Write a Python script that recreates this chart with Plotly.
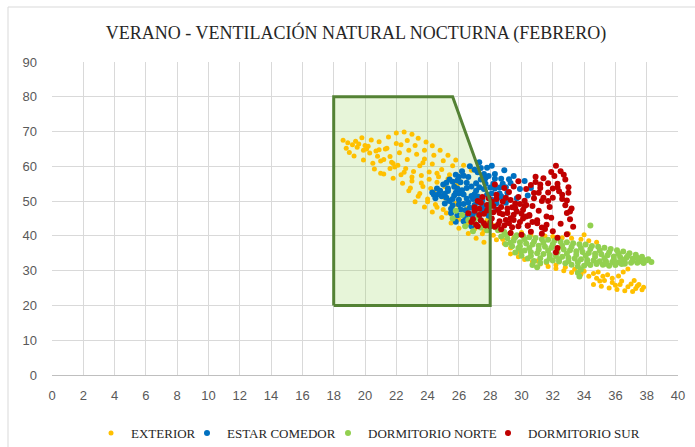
import plotly.graph_objects as go

TITLE = "VERANO - VENTILACIÓN NATURAL NOCTURNA (FEBRERO)"
SERIES_NAMES = ["EXTERIOR", "ESTAR COMEDOR", "DORMITORIO NORTE", "DORMITORIO SUR"]
SERIES_COLORS = ["#FFC000", "#0070C0", "#92D050", "#C00000"]

# Comfort zone polygon (temperature °C, relative humidity %)
COMFORT_X = [18, 18, 25.6, 28, 28, 18]
COMFORT_Y = [20, 80, 80, 50, 20, 20]

# EXTERIOR
EXT_X = [18.6, 18.9, 19.2, 19.5, 19.9, 20.3, 20.8, 21.2, 21.7, 22.1, 22.6, 23.1, 23.6, 24.1, 24.6, 25.1,
         19.8, 20.4, 20.9, 21.5, 22.0, 22.5, 23.0, 23.4, 23.9, 24.3, 24.8, 25.3, 25.8, 26.3, 26.8,
         19.3, 19.9, 20.5, 21.0, 21.6, 22.2, 22.8, 23.3, 23.8, 24.3, 24.9, 25.4, 26.0,
         20.6, 21.2, 21.8, 22.4, 22.9, 23.5, 24.0, 24.5, 25.0, 25.5, 26.0, 26.5, 27.0, 27.5,
         21.9, 22.5, 23.0, 23.6, 24.2, 24.8, 25.3, 25.9, 26.4, 27.0,
         23.2, 23.8, 24.3, 24.9, 25.5, 26.0, 26.6, 27.1, 27.6,
         27.8, 28.2, 28.6, 29.0, 29.5, 28.4, 28.9, 29.3, 29.8, 30.0, 30.6,
         31.5, 32.0, 32.6, 33.2, 33.8, 34.3, 34.8, 33.0, 34.0,
         29.3, 29.8, 30.2, 30.7, 31.2, 31.7, 32.2, 32.7, 33.2, 33.8, 34.3, 34.8, 35.3, 35.8, 36.3,
         36.8, 37.3, 37.7, 34.6, 35.1, 35.6, 36.1, 36.6, 37.1, 36.2, 36.5, 36.8, 37.2, 37.5, 37.8,
         35.5, 34.9, 22.3, 21.3, 20.2, 23.7, 24.6, 19.0,
         18.8, 19.6, 20.1, 20.7, 21.4, 22.0, 22.7, 23.2, 23.8, 24.4, 25.0, 25.6, 26.2,
         19.4, 20.0, 20.9, 21.8, 22.7, 23.5, 24.1, 24.7, 25.3, 25.9,
         21.0, 21.6, 22.3, 23.0, 23.7, 24.4, 25.1, 25.8, 26.5, 27.2,
         22.8, 23.4, 24.0, 24.6, 25.2, 25.8, 26.4, 27.0, 27.6, 28.2, 28.8,
         30.4, 31.0, 31.6, 32.2, 32.8, 33.4, 34.0, 34.6, 35.2, 35.8, 36.4, 37.0, 37.4, 35.0, 36.0]
EXT_Y = [67.5, 66.8, 66.2, 65.5, 64.6, 63.8, 62.9, 62.0, 61.2, 60.3, 59.4, 58.5, 57.4, 56.3, 55.4, 54.2,
         68.2, 67.6, 67.1, 68.4, 69.6, 69.9, 69.2, 68.1, 67.0, 65.9, 64.6, 63.2, 61.8, 60.3, 58.9,
         63.0, 61.8, 60.9, 61.5, 62.8, 63.9, 64.6, 63.5, 62.1, 60.7, 59.1, 57.6, 56.0,
         59.2, 57.8, 56.6, 55.1, 53.8, 52.2, 50.6, 49.0, 47.6, 46.2, 44.8, 43.4, 42.0, 40.6,
         59.8, 58.3, 56.9, 55.2, 53.6, 52.0, 50.4, 48.9, 47.3, 45.8,
         49.8, 48.3, 46.9, 45.3, 43.7, 42.2, 40.7, 39.3, 38.2,
         44.5, 43.0, 41.6, 40.5, 39.4, 38.9, 37.8, 36.5, 35.4, 41.0, 40.3,
         40.0, 39.8, 39.5, 39.3, 39.0, 38.6, 38.2, 40.6, 40.3,
         34.8, 34.0, 33.2, 32.6, 31.9, 31.2, 30.6, 30.0, 29.5, 29.0, 28.4, 27.8, 27.2, 26.6, 26.0,
         25.4, 24.9, 24.5, 26.0, 25.5, 25.0, 24.6, 24.2, 24.0, 28.5, 29.6, 30.5, 27.2, 26.0, 25.2,
         28.8, 29.6, 66.2, 65.0, 65.8, 61.0, 58.0, 64.0,
         65.2, 66.4, 65.0, 64.4, 65.2, 66.6, 67.4, 66.0, 64.6, 63.2, 61.6, 60.2, 58.4,
         67.2, 66.0, 64.8, 60.8, 62.0, 60.2, 58.4, 57.0, 56.4, 54.8,
         58.0, 59.4, 57.6, 55.8, 54.2, 52.6, 51.0, 49.4, 47.8, 46.4,
         53.0, 51.4, 49.8, 48.2, 46.6, 45.0, 43.6, 42.4, 41.4, 40.2, 39.0,
         33.6, 32.8, 32.2, 31.6, 31.0, 30.4, 29.8, 29.2, 28.4, 27.8, 27.0, 26.2, 25.6, 27.0, 25.8]

# ESTAR COMEDOR
EST_X = [24.3, 24.5, 24.6, 24.9, 25.0, 25.1, 25.3, 25.4, 25.5, 25.6, 25.7, 25.8, 25.9, 26.0, 26.0, 26.1,
         26.2, 26.3, 26.4, 26.5, 26.5, 26.6, 26.7, 26.8, 26.9, 27.0, 27.0, 27.1, 27.2, 27.3, 27.4, 27.5,
         27.5, 27.6, 27.7, 27.8, 27.9, 28.0, 28.1, 28.2, 28.3, 28.4, 28.5, 28.6, 28.7, 28.9, 29.0, 29.1,
         29.3, 29.5, 29.7, 29.9, 30.2, 30.4, 30.6,
         24.7, 25.2, 25.2, 25.6, 25.8, 25.9, 26.3, 26.3, 26.7, 26.8, 27.2, 27.3, 27.6, 27.8, 28.3, 28.8,
         29.2, 28.1, 27.0, 26.0,
         24.4, 24.8, 25.1, 25.4, 25.7, 26.0, 26.3, 26.6, 26.9, 27.2, 27.5, 27.8, 28.1, 28.4, 28.7, 29.0,
         25.3, 25.6, 25.9, 26.2, 26.5, 26.8, 27.1, 27.4, 27.7, 28.0, 28.3, 28.6, 26.1, 26.4, 26.7, 27.0,
         27.3, 27.6, 27.9, 25.5, 25.8, 26.9, 27.4, 28.9]
EST_Y = [52.5, 50.8, 53.6, 51.4, 54.8, 49.3, 52.9, 56.2, 47.8, 50.6, 54.1, 57.6, 45.9, 49.0, 52.2, 55.4,
         58.6, 44.2, 47.4, 50.7, 53.8, 56.9, 60.0, 42.8, 45.6, 48.9, 52.0, 55.1, 58.3, 61.2, 44.4, 47.1,
         50.3, 53.5, 56.6, 59.6, 45.8, 49.0, 52.2, 55.0, 57.8, 47.6, 50.9, 53.9, 56.4, 58.9, 49.5, 52.4,
         55.2, 57.2, 50.8, 53.5, 55.8, 51.6, 53.8,
         52.0, 51.0, 55.3, 48.8, 52.4, 55.9, 49.2, 57.3, 46.3, 51.5, 49.6, 54.0, 57.8, 51.8, 53.6, 55.0,
         56.3, 60.2, 59.0, 57.0,
         51.8, 53.0, 52.1, 50.0, 51.6, 50.4, 51.9, 49.6, 50.6, 51.3, 49.0, 48.2, 50.4, 49.4, 51.4, 54.0,
         53.6, 55.6, 53.6, 53.1, 55.3, 54.2, 53.0, 56.2, 55.0, 53.9, 56.4, 52.2, 47.6, 45.6, 48.1, 46.9,
         45.8, 47.9, 57.2, 46.6, 44.1, 43.8, 59.5, 50.6]

# DORMITORIO NORTE
NOR_X = [28.5, 28.9, 29.3, 29.7, 30.1, 30.5, 30.9, 31.3, 31.7, 32.1, 32.5, 32.9, 33.3, 33.7, 34.1, 34.5,
         34.9, 35.3, 35.7, 36.1, 36.5, 36.9, 37.3, 37.7, 38.1,
         28.7, 29.1, 29.5, 29.9, 30.3, 30.7, 31.1, 31.5, 31.9, 32.3, 32.7, 33.1, 33.5, 33.9, 34.3, 34.7,
         35.1, 35.5, 35.9, 36.3, 36.7, 37.1, 37.5, 37.9, 38.3,
         29.0, 29.4, 29.8, 30.2, 30.6, 31.0, 31.4, 31.8, 32.2, 32.6, 33.0, 33.4, 33.8, 34.2, 34.6, 35.0,
         35.4, 35.8, 36.2, 36.6, 37.0, 37.4, 37.8,
         29.6, 30.0, 30.4, 30.8, 31.2, 31.6, 32.0, 32.4, 32.8, 33.2, 33.6, 34.0, 34.4, 34.8, 35.2, 35.6,
         36.0, 36.4,
         33.7, 33.6, 33.8, 34.4, 31.0, 30.7,
         25.8, 26.2, 26.6, 27.0, 27.4, 27.8, 26.4, 27.2, 28.0, 28.3, 25.6, 26.9,
         29.0, 29.6, 30.2, 30.8, 31.4, 32.0, 32.6, 33.2, 33.8, 34.4, 35.0, 35.6, 36.2, 36.8, 37.4, 38.0,
         29.3, 29.9, 30.5, 31.1, 31.7, 32.3, 32.9, 33.5, 34.1, 34.7, 35.3, 35.9, 36.5, 37.1, 37.7,
         30.0, 30.6, 31.2, 31.8, 32.4, 33.0, 33.6, 34.2, 34.8, 35.4, 36.0, 36.6]
NOR_Y = [41.6, 41.1, 40.8, 40.2, 40.0, 39.6, 39.4, 39.0, 38.9, 38.6, 38.3, 38.2, 37.9, 37.6, 37.5, 37.1,
         36.9, 36.6, 36.2, 35.9, 35.5, 35.0, 34.6, 34.0, 33.3,
         39.8, 39.3, 38.6, 38.2, 37.8, 37.5, 37.2, 36.9, 36.6, 36.4, 36.1, 35.9, 35.6, 35.4, 35.1, 34.9,
         34.7, 34.4, 34.1, 33.9, 33.7, 33.4, 33.2, 32.9, 32.5,
         37.6, 37.0, 36.5, 35.8, 35.3, 35.0, 34.8, 34.5, 34.2, 34.0, 33.7, 33.5, 33.3, 33.1, 32.9, 32.7,
         32.6, 32.5, 32.4, 32.4, 32.3, 32.3, 32.2,
         35.2, 34.3, 33.5, 32.8, 32.2, 32.6, 32.9, 32.6, 32.1, 31.7, 31.2, 31.4, 31.6, 31.9, 31.7, 31.4,
         31.6, 31.9,
         28.3, 29.4, 30.3, 43.0, 31.0, 31.6,
         47.2, 46.0, 44.6, 43.6, 42.4, 41.6, 42.8, 45.2, 44.0, 42.5, 45.0, 41.3,
         40.4, 39.6, 39.0, 38.4, 38.0, 37.6, 37.2, 36.9, 36.5, 36.2, 35.8, 35.3, 34.9, 34.3, 33.7, 33.0,
         38.0, 37.0, 36.5, 36.1, 35.7, 35.3, 34.9, 34.6, 34.3, 34.0, 33.6, 33.3, 33.1, 32.8, 32.6,
         35.6, 34.2, 33.6, 33.6, 33.3, 32.8, 32.4, 32.2, 32.2, 32.0, 31.9, 32.0]

# DORMITORIO SUR
SUR_X = [26.6, 26.9, 27.0, 27.3, 27.4, 27.6, 27.8, 27.9, 28.1, 28.2, 28.4, 28.5, 28.6, 28.8, 29.0, 29.1,
         29.2, 29.4, 29.5, 29.6, 29.8, 29.9, 30.1, 30.2, 30.4, 30.5, 30.7, 30.8, 31.0, 31.1, 31.3, 31.5,
         31.6, 31.8, 32.0,
         30.3, 30.6, 30.9, 31.2, 31.4, 31.7, 31.9, 32.1, 32.3, 32.4, 32.6, 32.8, 32.9, 33.1, 33.0, 32.8,
         32.2, 33.2, 32.5, 32.0, 31.3, 30.6, 30.0, 29.3, 33.3, 32.9, 32.3, 32.2, 32.3, 31.7, 30.9, 29.5,
         28.9, 28.3, 29.8, 30.3, 29.3, 28.7, 28.0, 27.2,
         26.8, 27.1, 27.4, 27.7, 28.0, 28.3, 28.6, 28.9, 29.2, 29.5, 29.8, 30.1,
         27.0, 27.3, 27.6, 27.9, 28.2, 28.5, 28.8, 29.1, 29.4, 29.7, 30.0, 30.3,
         27.2, 27.5, 27.8, 28.1, 28.4, 28.7, 29.0, 29.3, 29.6, 29.9, 30.2,
         30.5, 30.8, 31.1, 31.4, 31.7, 32.0, 32.3, 32.6, 32.9, 33.1, 31.9, 31.6, 31.3, 31.0, 30.7, 30.4,
         32.5, 32.7, 33.0, 31.2]
SUR_Y = [46.5, 44.8, 48.2, 46.0, 49.5, 43.6, 47.3, 50.8, 45.0, 48.6, 51.8, 43.2, 46.6, 49.9, 44.6, 47.9,
         52.6, 42.5, 46.1, 49.3, 51.2, 44.0, 47.5, 50.1, 42.9, 45.8, 48.6, 52.3, 44.5, 47.2, 50.0, 42.0,
         45.6, 48.3, 51.0,
         53.5, 54.6, 55.5, 53.8, 56.6, 55.1, 58.4, 57.2, 55.0, 52.8, 50.6, 48.8, 46.6, 44.8, 54.0, 56.2,
         60.2, 47.9, 43.5, 41.3, 40.6, 41.2, 40.3, 40.8, 42.6, 40.5, 39.5, 35.3, 36.5, 52.5, 57.0, 54.2,
         53.8, 54.8, 55.7, 48.9, 45.1, 41.9, 42.8, 42.8,
         44.0, 43.2, 44.5, 43.0, 43.8, 42.6, 44.2, 43.0, 43.6, 44.6, 42.8, 45.0,
         47.2, 47.8, 46.4, 48.0, 46.8, 47.5, 46.2, 46.6, 48.2, 47.0, 46.4, 45.6,
         50.0, 51.2, 48.9, 49.8, 50.6, 48.3, 51.0, 50.3, 48.0, 49.2, 48.6,
         46.0, 50.8, 52.4, 51.0, 50.0, 53.6, 54.0, 51.8, 50.2, 47.0, 45.2, 43.2, 42.4, 43.6, 44.0, 43.0,
         58.6, 57.6, 52.4, 54.8]

XS = [EXT_X, EST_X, NOR_X, SUR_X]
YS = [EXT_Y, EST_Y, NOR_Y, SUR_Y]
SIZES = [5, 6, 6, 6]
LEGEND_TEXT_START_PX = [131, 227, 368, 528]

PLOT_L, PLOT_R, PLOT_T, PLOT_B, W, H = 52, 678, 62, 375, 695, 447
PW, PH = PLOT_R - PLOT_L, PLOT_B - PLOT_T

fig = go.Figure()

fig.add_trace(go.Scatter(x=COMFORT_X, y=COMFORT_Y, mode="lines", fill="toself",
                         fillcolor="rgba(146,208,80,0.22)", line=dict(width=0),
                         showlegend=False, hoverinfo="skip"))

legend_ids = ["legend", "legend2", "legend3", "legend4"]
for name, color, xs, ys, sz, lid in zip(SERIES_NAMES, SERIES_COLORS, XS, YS, SIZES, legend_ids):
    fig.add_trace(go.Scatter(x=xs, y=ys, mode="markers", name=name, legend=lid,
                             marker=dict(color=color, size=sz, line=dict(width=0))))

fig.add_trace(go.Scatter(x=COMFORT_X, y=COMFORT_Y, mode="lines",
                         line=dict(color="#548235", width=3),
                         showlegend=False, hoverinfo="skip"))

tickfont = dict(family="Liberation Sans, Arial, sans-serif", size=13, color="#595959")
legfont = dict(family="Liberation Serif, Times New Roman, serif", size=13, color="#262626")

legends = {}
for lid, tx in zip(legend_ids, LEGEND_TEXT_START_PX):
    legends[lid] = dict(orientation="h", x=(tx - 40 - PLOT_L) / PW, xanchor="left",
                        y=(PLOT_B - 433) / PH, yanchor="middle", font=legfont,
                        itemwidth=30, bgcolor="rgba(0,0,0,0)")

fig.update_layout(
    width=W, height=H,
    margin=dict(l=PLOT_L, r=W - PLOT_R, t=PLOT_T, b=H - PLOT_B, autoexpand=False),
    paper_bgcolor="white", plot_bgcolor="white",
    title=dict(text=TITLE, x=(356 / W), xanchor="center", y=1 - 33 / H, yanchor="middle",
               font=dict(family="Liberation Serif, Times New Roman, serif", size=18, color="#262626")),
    xaxis=dict(range=[0, 40], dtick=2, tick0=0, showgrid=True, gridcolor="#D9D9D9", gridwidth=1,
               zeroline=False, showline=True, linecolor="#BFBFBF", linewidth=1,
               ticks="", tickfont=tickfont, fixedrange=True, ticklabelstandoff=8),
    yaxis=dict(range=[0, 90], dtick=10, tick0=0, showgrid=True, gridcolor="#D9D9D9", gridwidth=1,
               zeroline=False, showline=False, ticks="", tickfont=tickfont, fixedrange=True,
               ticklabelstandoff=14),
    shapes=[dict(type="rect", xref="paper", yref="paper", x0=(8 - PLOT_L) / PW, x1=(W + 2 - PLOT_L) / PW,
                 y0=(PLOT_B - H - 2) / PH, y1=(PLOT_B - 7) / PH, line=dict(color="#D9D9D9", width=1),
                 fillcolor="rgba(0,0,0,0)", layer="below")],
    **legends,
)

fig.write_html("out.html", config={"displayModeBar": False},
               post_script="document.body.style.margin='0';document.body.style.overflow='hidden';")
